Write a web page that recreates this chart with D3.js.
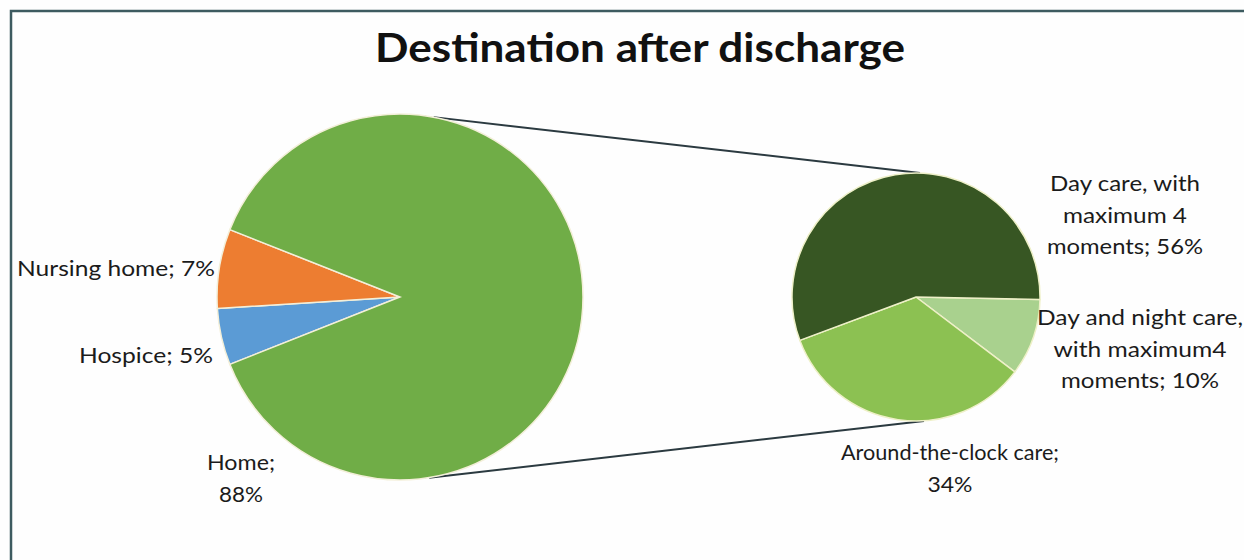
<!DOCTYPE html>
<html><head><meta charset="utf-8">
<script src="https://cdn.jsdelivr.net/npm/d3@7"></script>
<style>body{margin:0;background:#fff;overflow:hidden}svg{display:block}</style>
</head><body><svg id="c" width="1244" height="560"></svg>
<script>
const title = "Destination after discharge";
const mainCategories = ["Hospice", "Nursing home", "Home"];
const mainValues = [5, 7, 88];
const mainColors = ["#5b9bd5", "#ed7d31", "#70ad47"];
const subCategories = ["Day and night care, with maximum4 moments", "Around-the-clock care", "Day care, with maximum 4 moments"];
const subValues = [10, 34, 56];
const subColors = ["#a9d18e", "#8cc152", "#375623"];
const mainLabelLines = [["Hospice; 5%"], ["Nursing home; 7%"], ["Home;", "88%"]];
const subLabelLines = [["Day and night care,", "with maximum4", "moments; 10%"], ["Around-the-clock care;", "34%"], ["Day care, with", "maximum 4", "moments; 56%"]];

const svg = d3.select("#c");
const font = "Lato, 'Open Sans', sans-serif";
svg.append("rect").attr("width",1244).attr("height",560).attr("fill","#fefefe");
// frame (only top and left edges visible)
svg.append("path").attr("d","M11,560 L11,11 L1244,11").attr("fill","none").attr("stroke","#3d5b60").attr("stroke-width",2.5);

svg.append("text").attr("x",640).attr("y",62).attr("text-anchor","middle")
  .attr("font-family",font).attr("font-weight","bold").attr("font-size",40).attr("fill","#111")
  .attr("textLength",530).attr("lengthAdjust","spacingAndGlyphs").text(title);

const c1 = {x:400, y:297, r:183};
const c2 = {x:916, y:297, r:124};

// connector lines
const smallShare = (mainValues[0]+mainValues[1]) / d3.sum(mainValues);
const tA = 0.185, bA = Math.PI - 0.16;
svg.append("line").attr("x1", c1.x + c1.r*Math.sin(tA)).attr("y1", c1.y - c1.r*Math.cos(tA))
  .attr("x2", c2.x + 4).attr("y2", c2.y - c2.r).attr("stroke","#2b3a40").attr("stroke-width",2);
svg.append("line").attr("x1", c1.x + c1.r*Math.sin(bA)).attr("y1", c1.y - c1.r*Math.cos(bA))
  .attr("x2", c2.x + 8).attr("y2", c2.y + c2.r).attr("stroke","#2b3a40").attr("stroke-width",2);

const start1 = 1.5*Math.PI - smallShare*Math.PI;
const pie1 = d3.pie().sort(null).startAngle(start1).endAngle(start1 + 2*Math.PI);
const arc1 = d3.arc().innerRadius(0).outerRadius(c1.r);
const g1 = svg.append("g").attr("transform",`translate(${c1.x},${c1.y})`);
g1.selectAll("path").data(pie1(mainValues)).join("path")
  .attr("d",arc1).attr("fill",(d,i)=>mainColors[i]).attr("stroke","#f3efd9").attr("stroke-width",1.5);

const start2 = Math.PI/2 + 0.02;
const pie2 = d3.pie().sort(null).startAngle(start2).endAngle(start2 + 2*Math.PI);
const arc2 = d3.arc().innerRadius(0).outerRadius(c2.r);
const g2 = svg.append("g").attr("transform",`translate(${c2.x},${c2.y})`);
g2.selectAll("path").data(pie2(subValues)).join("path")
  .attr("d",arc2).attr("fill",(d,i)=>subColors[i]).attr("stroke","#eef0c8").attr("stroke-width",1.5);

// labels (positions and fitted line widths)
const mainLabelPos = [{x:213,y:363,a:"end",w:[134]},{x:215,y:276,a:"end",w:[198]},{x:241,y:470,a:"middle",w:[68,44]}];
const subLabelPos = [{x:1140,y:325,a:"middle",w:[206,173,158]},{x:950,y:460,a:"middle",w:[218,45]},{x:1125,y:191,a:"middle",w:[150,124,156]}];
const lh = 31.5;
function drawLabel(lines, p){
  lines.forEach((l,i)=>{
    svg.append("text").attr("font-family",font).attr("font-size",22).attr("fill","#1b1b1b")
      .attr("text-anchor",p.a).attr("x",p.x).attr("y",p.y + i*lh)
      .attr("textLength",p.w[i]).attr("lengthAdjust","spacingAndGlyphs").text(l);
  });
}
mainLabelLines.forEach((l,i)=>drawLabel(l, mainLabelPos[i]));
subLabelLines.forEach((l,i)=>drawLabel(l, subLabelPos[i]));
</script></body></html>
